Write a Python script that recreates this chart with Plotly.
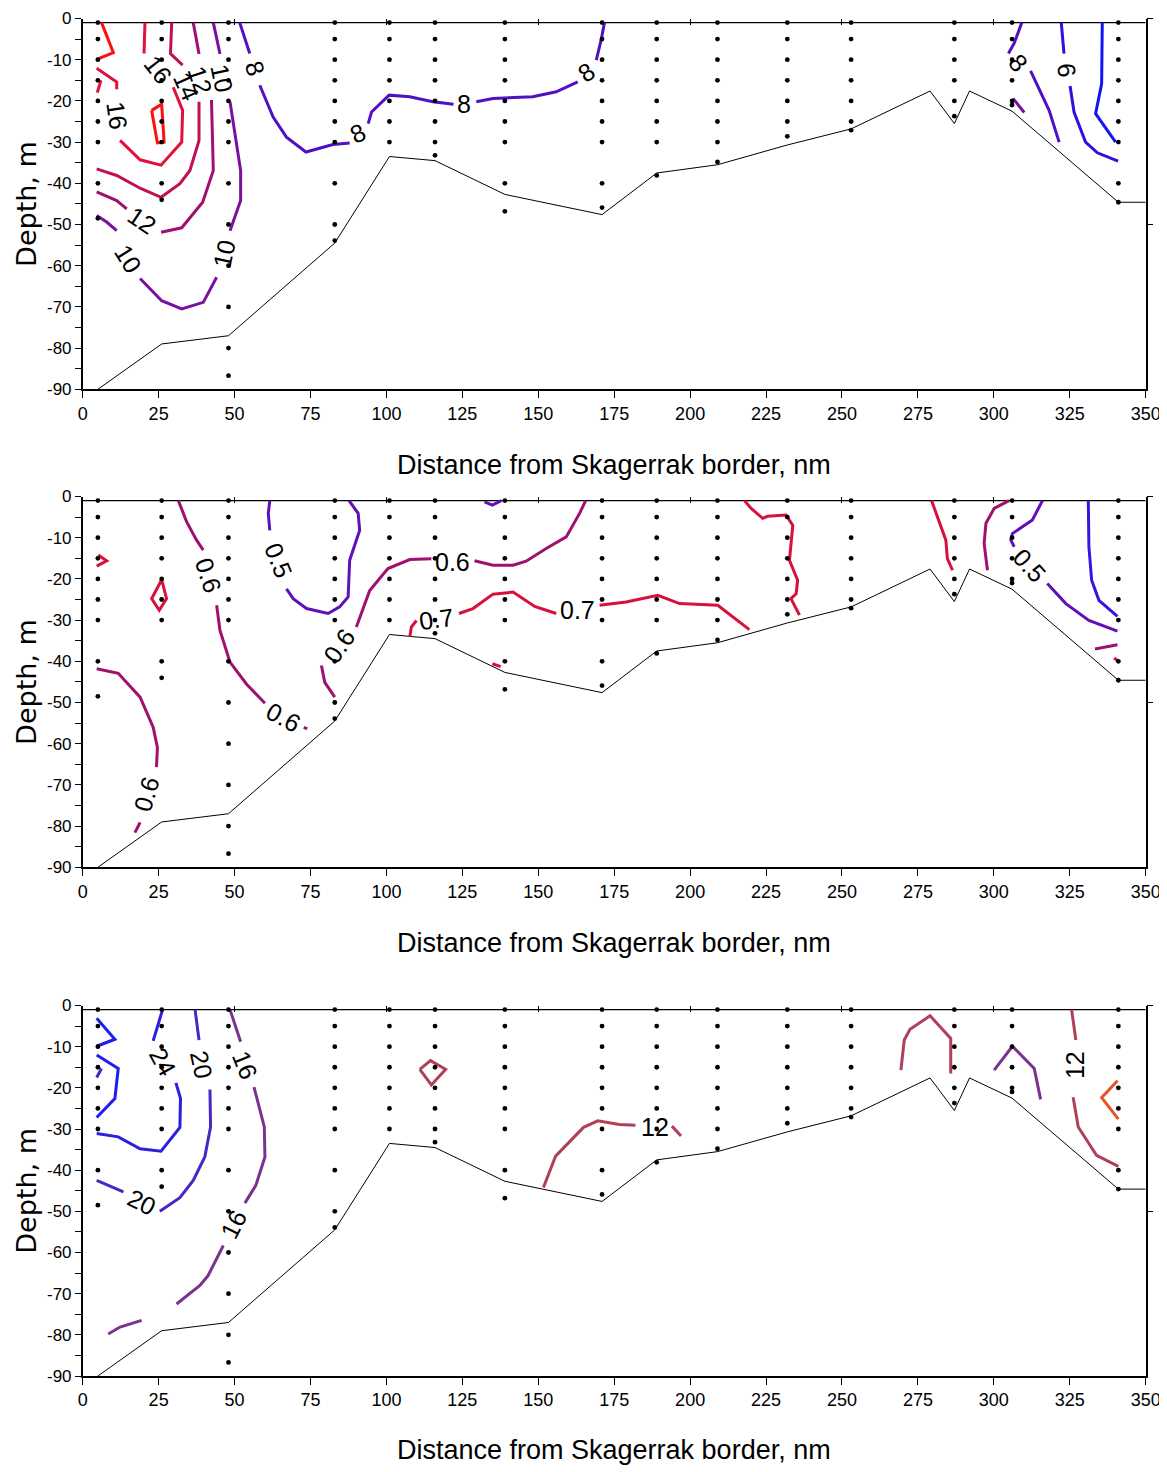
import plotly.graph_objects as go

# The page body has an 8 px margin, so the figure is drawn starting at (8, 8).
OFF = 8
W, H = 1167 - OFF, 1472 - OFF
SANS = "Liberation Sans, Arial, sans-serif"

# ---------------- data ----------------
x_ticks = list(range(0, 351, 25))
y_ticks = list(range(0, -91, -5))
y_ticktext = [str(v) if v % 10 == 0 else "" for v in y_ticks]
x_title = "Distance from Skagerrak border, nm"
y_title = "Depth, m"

stations = [5, 26, 48, 83, 101, 116, 139, 171, 189, 209, 232, 253, 287, 306, 341]
sample_depths = [
    [-1, -5, -10, -15, -20, -25, -30, -40, -48.5],
    [-1, -5, -10, -15, -20, -25, -30, -40, -44],
    [-1, -5, -10, -15, -20, -25, -30, -40, -50, -60, -70, -80, -86.7],
    [-1, -5, -10, -15, -20, -25, -30, -40, -50, -53.9],
    [-1, -5, -10, -15, -20, -25, -30],
    [-1, -5, -10, -15, -20, -25, -30, -33.2],
    [-1, -5, -10, -15, -20, -25, -30, -40, -46.8],
    [-1, -5, -10, -15, -20, -25, -30, -40, -45.9],
    [-1, -5, -10, -15, -20, -25, -30, -38.1],
    [-1, -5, -10, -15, -20, -25, -30, -34.8],
    [-1, -5, -10, -15, -20, -25, -28.6],
    [-1, -5, -10, -15, -20, -25, -27.1],
    [-1, -5, -10, -15, -20, -23.7],
    [-1, -5, -10, -15, -20, -21],
    [-1, -5, -10, -15, -20, -25, -30, -40, -44.6],
]

bottom_x = [5, 26, 48, 83, 101, 116, 139, 171, 189, 209, 232, 253, 279, 287, 292, 306, 341, 350]
bottom_z = [-90, -79, -77, -54.5, -33.5, -34.5, -42.7, -47.6, -37.5, -35.5, -30.7,
            -26.8, -17.6, -25.5, -17.6, -22.5, -44.6, -44.6]

surface_x = [0, 350]
surface_z = [-1, -1]

# ---- panel 1 isolines ----
T18_x = [6.2, 10.1, 4.6, None, 22.7, 26.0, 26.8, 24.6, 22.7]
T18_z = [-1, -8.3, -9.9, None, -22.3, -20.8, -30.0, -30.2, -22.3]
T16_x = [20.5, 20.2, None, 29.8, 32.9, 32.6, 25.8, 18.9, 12.3, None, 11.2, 11.2, 4.6, None, 6.0, 4.8]
T16_z = [-1, -8.5, None, -16.7, -22.3, -30.0, -35.6, -34.3, -29.6, None, -17.2, -15.4, -12.1, None, -15.0, -18.0]
T14_x = [29.3, 28.9, 32.9, None, 38.3, 38.3, 35.3, 32.0, 25.8, 18.9, 11.2, 4.6]
T14_z = [-1, -8.5, -11.3, None, -20.2, -29.6, -36.9, -40.1, -43.4, -41.2, -38.1, -36.5]
T12_x = [36.4, 38.3, None, 42.4, 43.0, 39.5, 32.6, 25.8, None, 14.5, 11.2, 4.6]
T12_z = [-1, -8.6, None, -19.8, -36.9, -44.6, -50.8, -51.9, None, -46.2, -44.2, -42.1]
T10_x = [43.0, 45.2, None, 48.5, 52.0, 52.0, 48.5, None, 44.1, 39.7, 32.6, 26.0, 18.9, None,
         11.2, 7.9, 4.6, None, 306.3, 310.0]
T10_z = [-1, -8.6, None, -20.2, -36.9, -44.2, -51.5, None, -62.8, -68.9, -70.5, -68.5, -63.1, None,
         -51.5, -49.4, -47.8, None, -19.4, -22.8]
T8_x = [51.7, 55.0, None, 58.3, 62.7, 67.1, 73.5, 82.4, 87.9, None, 94.0, 95.1, 100.9, 107.7, 115.3, 122.1,
        None, 129.6, 135.1, 148.2, 155.9, 163.0, None, 169.1, 170.7, 171.8, None, 309.2, 306.7, 304.8,
        None, 312.1, 318.2, 321.5]
T8_z = [-1, -8.5, None, -16.2, -23.9, -28.8, -32.4, -30.6, -30.2, None, -25.5, -22.7, -18.6, -19.0, -20.2, -20.8,
        None, -20.2, -19.4, -19.0, -17.8, -15.4, None, -10.1, -5.2, -1, None, -1, -6.0, -8.5,
        None, -12.7, -22.3, -30.0]
T6_x = [322.2, 323.1, None, 325.1, 326.4, 330.2, 334.1, 340.9]
T6_z = [-1, -8.5, None, -16.4, -22.7, -30.0, -32.6, -34.6]
T4_x = [335.7, 335.5, 333.5, 340.1]
T4_z = [-1, -15.8, -23.1, -30.0]

T_labels = ["16", "14", "12", "10", "8", "16", "12", "10", "10", "8", "8", "8", "8", "6"]
T_label_x = [24.9, 34.0, 38.6, 45.8, 56.7, 11.2, 19.4, 15.0, 46.5, 90.7, 125.5, 165.8, 308.1, 324.0]
T_label_z = [-12.5, -16.5, -15.0, -14.5, -12.1, -23.5, -49.0, -58.4, -57.1, -27.9, -20.8, -12.9, -10.9, -12.5]
T_label_ang = [52, 66, 72, 78, 72, 82, 34, 58, -78, -25, 0, -35, 50, 82]

# ---- panel 2 isolines ----
O07_x = [5.1, 7.9, 4.6, None, 26.0, 22.7, 25.2, 27.6, 26.0, None, 107.7, 108.2, 109.9, None,
         123.9, 128.5, 135.1, 141.7, 148.8, 155.9, None, 170.2, 178.9, 189.4, 196.5, 209.1, 219.5, None,
         134.9, 137.6, None, 217.9, 220.1, 223.9, 225.5, 231.6, 233.8, 232.7, 235.4, 234.9, 233.2, 236.0,
         None, 279.5, 284.2, 284.7, 286.4, None, 339.6, 340.7]
O07_z = [-14.2, -15.6, -16.9, None, -20.2, -24.8, -27.6, -24.8, -20.2, None, -34.1, -31.7, -30.1, None,
         -28.4, -27.2, -23.7, -23.2, -26.7, -28.4, None, -26.4, -25.6, -24.0, -26.0, -26.4, -32.3, None,
         -40.6, -41.3, None, -1, -2.9, -5.3, -4.8, -4.5, -7.0, -15.5, -20.3, -23.6, -24.8, -28.8,
         None, -1, -10.6, -15.1, -17.9, None, -39.2, -39.8]
O06_x = [4.6, 11.7, 18.9, 23.2, 24.6, 24.3, None, 18.9, 17.2, None,
         31.5, 34.2, 37.5, 39.7, None, 44.1, 45.2, 48.5, 53.9, 60.0, None, 72.8, 73.9, None,
         78.6, 79.7, 83.0, None, 90.1, 94.5, 100.5, 107.7, 114.8, None,
         129.0, 135.1, 141.7, 146.0, 152.6, 159.2, 163.6, 165.6, None,
         305.0, 300.1, 297.4, 296.8, 297.9, None, 333.3, 340.7]
O06_z = [-41.8, -42.9, -48.7, -56.0, -60.9, -65.7, None, -79.1, -81.6, None,
         -1, -6.1, -10.6, -13.0, None, -26.4, -32.5, -40.2, -45.5, -50.2, None, -56.0, -56.4, None,
         -41.0, -45.1, -48.7, None, -31.7, -22.8, -17.5, -15.3, -15.1, None,
         -15.6, -16.7, -16.7, -15.7, -12.6, -9.8, -4.1, -1, None,
         -1, -2.9, -6.5, -11.4, -17.9, None, -37.0, -36.0]
O05_x = [61.6, 61.1, 61.6, None, 67.1, 69.3, 73.7, 80.8, 84.6, 87.4, 87.9, 91.2, 90.7, 87.7, None,
         132.3, 134.9, 137.8, None, 316.0, 312.7, 306.1, 305.6, 306.7, None, 317.6, 323.7, 331.3, 340.7]
O05_z = [-1, -4.1, -8.2, None, -22.4, -24.8, -27.2, -28.4, -26.8, -24.4, -15.5, -8.2, -4.1, -1, None,
         -1.3, -2.1, -1, None, -1, -5.7, -9.0, -10.6, -12.2, None, -21.1, -26.0, -30.1, -32.7]
O04_x = [331.1, 331.3, 332.2, 334.6, 340.7]
O04_z = [-1, -12.2, -20.3, -25.2, -29.1]

O_labels = ["0.6", "0.5", "0.6", "0.6", "0.6", "0.6", "0.7", "0.7", "0.5"]
O_label_x = [41.3, 64.4, 66.0, 84.4, 21.0, 121.9, 116.4, 162.8, 311.6]
O_label_z = [-19.1, -15.5, -53.6, -36.3, -72.2, -15.9, -29.7, -27.6, -16.7]
O_label_ang = [72, 68, 28, -55, -74, 0, -8, 0, 48]

# ---- panel 3 isolines ----
S28_x = [4.6, 10.6, 4.6, None, 4.6, 11.7, 10.6, 4.6]
S28_z = [-3.1, -8.2, -9.9, None, -12.0, -15.3, -22.6, -27.2]
S24_x = [4.6, 11.7, 18.9, 25.8, 32.0, 32.2, 30.7, None, 23.2, 26.3]
S24_z = [-31.1, -31.9, -34.8, -35.4, -29.6, -22.6, -18.8, None, -8.6, -1]
S20_x = [37.0, 38.3, None, 41.9, 42.1, 40.2, 36.4, 32.0, 25.4, None, 13.4, 4.6, None, 4.6, 6.2]
S20_z = [-1, -8.4, None, -20.4, -29.5, -36.8, -42.5, -46.7, -50.0, None, -45.3, -42.5, None, -17.5, -15.3]
S16_x = [48.5, 52.0, None, 56.4, 59.8, 60.0, 57.0, 53.4, None, 46.3, 41.3, 38.6, 35.8, 30.9, None,
         19.4, 12.3, 8.4, None, 300.1, 306.1, 313.3, 315.4]
S16_z = [-1, -8.8, None, -19.8, -29.5, -36.8, -43.7, -48.0, None, -58.3, -65.6, -68.0, -69.6, -72.5, None,
         -76.5, -78.1, -79.8, None, -15.7, -9.9, -15.3, -22.8]
S12_x = [111.0, 114.5, 119.5, 114.8, 111.0, None, 151.7, 155.7, 164.9, 169.6, 176.7, 182.0, None,
         194.0, 197.0, None, 269.4, 270.5, 272.4, 279.0, 285.8, 285.8, None, 325.6, 327.0, None,
         326.1, 327.8, 333.8, 341.0]
S12_z = [-15.5, -13.4, -15.5, -19.3, -15.5, None, -44.2, -36.6, -29.6, -28.0, -28.9, -29.1, None,
         -29.3, -31.7, None, -15.7, -8.4, -5.8, -2.5, -8.0, -16.5, None, -1, -8.4, None,
         -22.3, -29.5, -36.4, -39.1]
S8_x = [340.7, 335.5, 341.0]
S8_z = [-18.3, -22.4, -27.6]

S_labels = ["24", "20", "16", "20", "16", "12", "12"]
S_label_x = [26.5, 39.1, 53.4, 19.4, 49.6, 188.3, 326.7]
S_label_z = [-13.7, -14.5, -14.5, -47.7, -53.0, -29.5, -14.5]
S_label_ang = [61, 78, 68, 26, -63, 0, -90]

panels = [
    {
        "lines": [(T18_x, T18_z, "#ff1010"), (T16_x, T16_z, "#e2103c"), (T14_x, T14_z, "#c21058"),
                  (T12_x, T12_z, "#a01070"), (T10_x, T10_z, "#7a10a0"), (T8_x, T8_z, "#5010c4"),
                  (T6_x, T6_z, "#3010e0"), (T4_x, T4_z, "#1414f4")],
        "labels": (T_labels, T_label_x, T_label_z, T_label_ang),
    },
    {
        "lines": [(O07_x, O07_z, "#d8103c"), (O06_x, O06_z, "#a0106e"), (O05_x, O05_z, "#6010b8"),
                  (O04_x, O04_z, "#3018e0")],
        "labels": (O_labels, O_label_x, O_label_z, O_label_ang),
    },
    {
        "lines": [(S28_x, S28_z, "#1e1ef0"), (S24_x, S24_z, "#2e1ee0"), (S20_x, S20_z, "#4a26c4"),
                  (S16_x, S16_z, "#7a3290"), (S12_x, S12_z, "#b0405a"), (S8_x, S8_z, "#e05626")],
        "labels": (S_labels, S_label_x, S_label_z, S_label_ang),
    },
]

# ---------------- layout geometry (screen pixels of the reference) ----------------
def fx(px):
    return (px - OFF) / W


def fy(py):
    return 1 - (py - OFF) / H


x_dom = [fx(82.7), fx(1145.7)]
y_px = [(18.5, 389.3), (496.5, 867.3), (1005.5, 1376.0)]
xtitle_px = [465, 943, 1450]

fig = go.Figure()
annotations = []
for i, p in enumerate(panels):
    n = i + 1
    xa = "x" if n == 1 else f"x{n}"
    ya = "y" if n == 1 else f"y{n}"
    top_x = f"x{n + 3}"
    right_y = f"y{n + 3}"

    dx, dz = [], []
    for s, ds in zip(stations, sample_depths):
        for d in ds:
            dx.append(s)
            dz.append(d)
    fig.add_trace(go.Scatter(x=surface_x, y=surface_z, mode="lines", line=dict(color="black", width=1.2),
                             xaxis=xa, yaxis=ya, hoverinfo="skip"))
    fig.add_trace(go.Scatter(x=bottom_x, y=bottom_z, mode="lines", line=dict(color="black", width=1),
                             xaxis=xa, yaxis=ya, hoverinfo="skip"))
    for lx, lz, col in p["lines"]:
        fig.add_trace(go.Scatter(x=lx, y=lz, mode="lines", line=dict(color=col, width=3),
                                 connectgaps=False, xaxis=xa, yaxis=ya, hoverinfo="skip"))
    fig.add_trace(go.Scatter(x=dx, y=dz, mode="markers", marker=dict(color="black", size=4.8),
                             xaxis=xa, yaxis=ya, hoverinfo="skip"))
    fig.add_trace(go.Scatter(x=[None], y=[None], xaxis=top_x, yaxis=ya, hoverinfo="skip"))
    fig.add_trace(go.Scatter(x=[None], y=[None], xaxis=xa, yaxis=right_y, hoverinfo="skip"))

    t0, t1 = y_px[i]
    ydom = [fy(t1), fy(t0)]
    axis_common = dict(showgrid=False, zeroline=False, linecolor="black", tickcolor="black",
                       automargin=False)
    fig.layout[("xaxis" if n == 1 else f"xaxis{n}")] = dict(
        domain=x_dom, range=[0, 350], anchor=ya, tickmode="array", tickvals=x_ticks,
        ticks="outside", ticklen=7, tickwidth=1, showline=True, linewidth=1.5,
        tickfont=dict(family=SANS, size=18, color="black"), **axis_common)
    fig.layout[f"xaxis{n + 3}"] = dict(
        domain=x_dom, range=[0, 350], anchor=ya, overlaying=xa, side="top", tickmode="array",
        tickvals=list(range(0, 351, 50)), ticks="inside", ticklen=6, tickwidth=1,
        showticklabels=False, showline=False, **axis_common)
    fig.layout[("yaxis" if n == 1 else f"yaxis{n}")] = dict(
        domain=ydom, range=[-90, 0], anchor=xa, tickmode="array", tickvals=y_ticks,
        ticktext=y_ticktext, ticks="outside", ticklen=6, tickwidth=1, showline=True, linewidth=1.5,
        tickfont=dict(family=SANS, size=17, color="black"), **axis_common)
    fig.layout[f"yaxis{n + 3}"] = dict(
        domain=ydom, range=[-90, 0], anchor=xa, overlaying=ya, side="right", tickmode="array",
        tickvals=[0, -50], ticks="outside", ticklen=6, tickwidth=1, showticklabels=False,
        showline=True, linewidth=1.5, **axis_common)

    labs, lxs, lzs, angs = p["labels"]
    for t, lx, lz, a in zip(labs, lxs, lzs, angs):
        annotations.append(dict(x=lx, y=lz, xref=xa, yref=ya, text=t, showarrow=False, textangle=a,
                                font=dict(family=SANS, size=25, color="black")))
    annotations.append(dict(x=fx(614), y=fy(xtitle_px[i]), xref="paper", yref="paper", text=x_title,
                            showarrow=False, xanchor="center", yanchor="middle",
                            font=dict(family=SANS, size=27, color="black")))
    annotations.append(dict(x=fx(27), y=fy((t0 + t1) / 2), xref="paper", yref="paper", text=y_title,
                            showarrow=False, textangle=-90, xanchor="center", yanchor="middle",
                            font=dict(family="DejaVu Sans, sans-serif", size=27, color="black")))

fig.update_layout(width=W, height=H, margin=dict(l=0, r=0, t=0, b=0, pad=0), showlegend=False,
                  paper_bgcolor="white", plot_bgcolor="white", annotations=annotations)
fig.write_html("out.html")
